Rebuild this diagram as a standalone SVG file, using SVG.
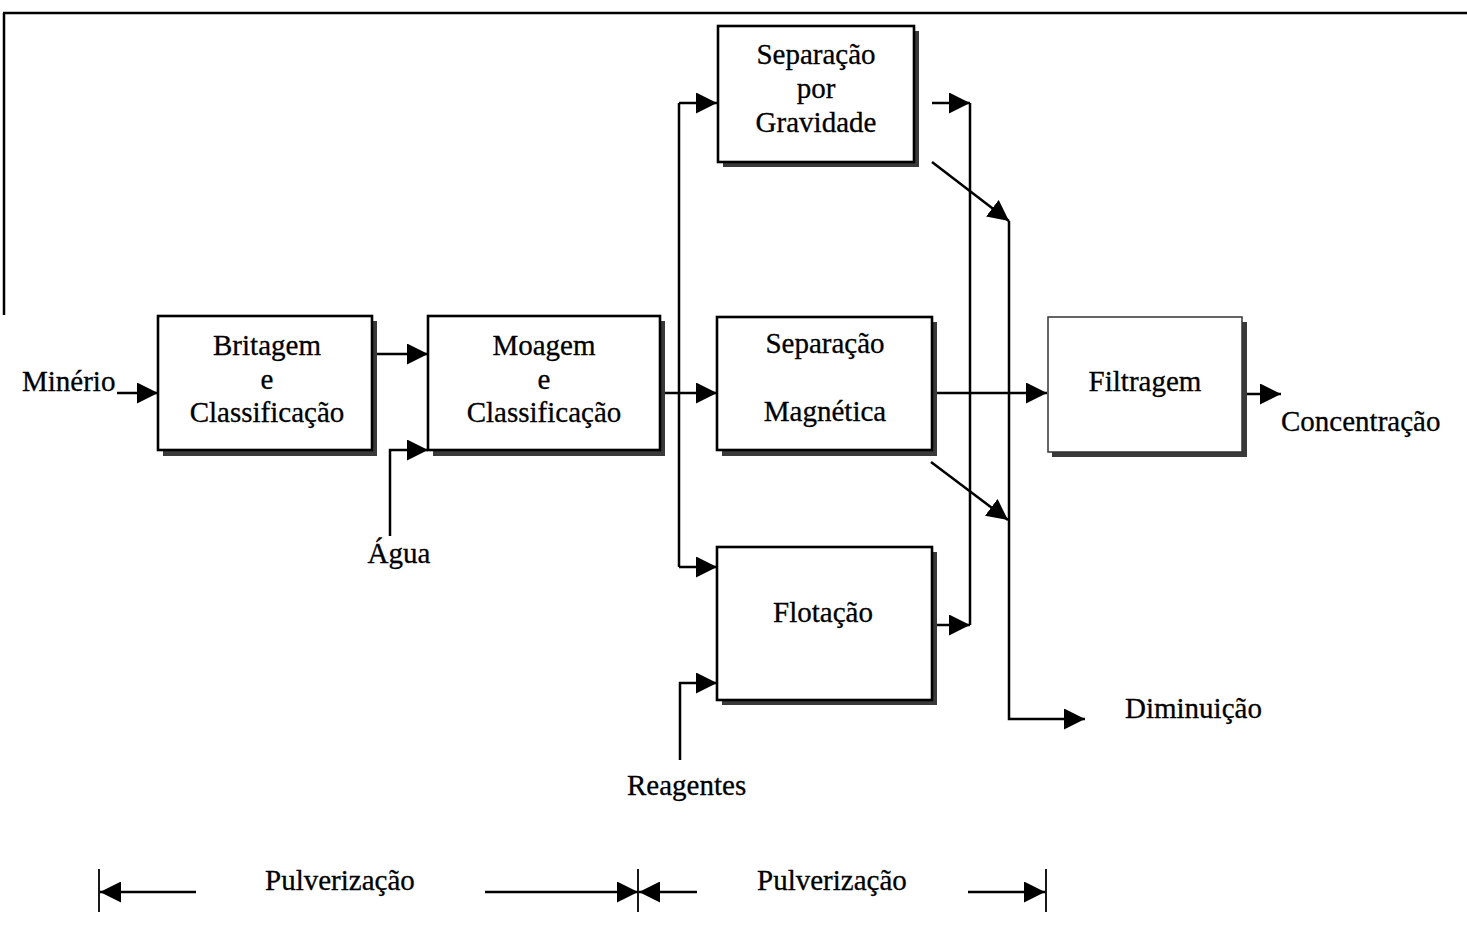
<svg xmlns="http://www.w3.org/2000/svg" width="1467" height="928" viewBox="0 0 1467 928">
  <style>
    .box { fill: #ffffff; stroke: #000000; stroke-width: 2.6; }
    .box-light { fill: #ffffff; stroke: #333333; stroke-width: 1.5; }
    .shadow { fill: #3a3a3a; }
    .wire { fill: none; stroke: #000000; stroke-width: 2.5; }
    .tick { fill: none; stroke: #000000; stroke-width: 1.8; }
    .lbl { font-family: "Liberation Serif", "Times New Roman", serif; font-size: 29px; fill: #000000; stroke: #000000; stroke-width: 0.3; }
    .mid { text-anchor: middle; }
  </style>
  <defs>
    <marker id="arrow" markerUnits="userSpaceOnUse" markerWidth="21" markerHeight="21" refX="21" refY="10.5" orient="auto">
      <path d="M0,0 L21,10.5 L0,21 z" fill="#000000"/>
    </marker>
  </defs>

  <rect width="1467" height="928" fill="#ffffff"/>

  <!-- page frame -->
  <path d="M3,13 H1467 M4,13 V315" fill="none" stroke="#000000" stroke-width="2.5"/>

  <!-- connectors -->
  <g id="connectors">
    <!-- feed -->
    <path class="wire" d="M117,393 H158" marker-end="url(#arrow)"/>
    <!-- crushing to grinding -->
    <path class="wire" d="M376,354 H428" marker-end="url(#arrow)"/>
    <!-- water -->
    <path class="wire" d="M390,536 V450 H428" marker-end="url(#arrow)"/>
    <!-- grinding output to separators -->
    <path class="wire" d="M664,393 H717" marker-end="url(#arrow)"/>
    <path class="wire" d="M679,103 V567"/>
    <path class="wire" d="M679,103 H717" marker-end="url(#arrow)"/>
    <path class="wire" d="M679,567 H717" marker-end="url(#arrow)"/>
    <!-- reagents -->
    <path class="wire" d="M680,760 V683 H717" marker-end="url(#arrow)"/>
    <!-- concentrate collector -->
    <path class="wire" d="M932,103 H970" marker-end="url(#arrow)"/>
    <path class="wire" d="M970,103 V625"/>
    <path class="wire" d="M937,625 H970" marker-end="url(#arrow)"/>
    <!-- magnetic to filtering -->
    <path class="wire" d="M937,393 H1047" marker-end="url(#arrow)"/>
    <!-- tailings -->
    <path class="wire" d="M932,162 L1009,221" marker-end="url(#arrow)"/>
    <path class="wire" d="M931,462 L1008,520" marker-end="url(#arrow)"/>
    <path class="wire" d="M1009,221 V719 H1085" marker-end="url(#arrow)"/>
    <!-- filtering output -->
    <path class="wire" d="M1247,394 H1281" marker-end="url(#arrow)"/>
  </g>

  <!-- nodes -->
  <g id="britagem">
    <rect class="shadow" x="163" y="321" width="214" height="135"/>
    <rect class="box" x="158" y="316" width="214" height="134"/>
    <text class="lbl mid" x="267" y="355">Britagem</text>
    <text class="lbl mid" x="267" y="389">e</text>
    <text class="lbl mid" x="267" y="422">Classificação</text>
  </g>

  <g id="moagem">
    <rect class="shadow" x="433" y="321" width="232" height="135"/>
    <rect class="box" x="428" y="316" width="232" height="134"/>
    <text class="lbl mid" x="544" y="355">Moagem</text>
    <text class="lbl mid" x="544" y="389">e</text>
    <text class="lbl mid" x="544" y="422">Classificação</text>
  </g>

  <g id="gravidade">
    <rect class="shadow" x="723" y="31" width="196" height="136"/>
    <rect class="box" x="718" y="26" width="196" height="136"/>
    <text class="lbl mid" x="816" y="64">Separação</text>
    <text class="lbl mid" x="816" y="98">por</text>
    <text class="lbl mid" x="816" y="132">Gravidade</text>
  </g>

  <g id="magnetica">
    <rect class="shadow" x="722" y="322" width="215" height="134"/>
    <rect class="box" x="717" y="317" width="215" height="133"/>
    <text class="lbl mid" x="825" y="353">Separação</text>
    <text class="lbl mid" x="825" y="421">Magnética</text>
  </g>

  <g id="flotacao">
    <rect class="shadow" x="722" y="552" width="215" height="153"/>
    <rect class="box" x="717" y="547" width="215" height="153"/>
    <text class="lbl mid" x="823" y="622">Flotação</text>
  </g>

  <g id="filtragem">
    <rect class="shadow" x="1052" y="322" width="195" height="135"/>
    <rect class="box-light" x="1048" y="317" width="194" height="135"/>
    <text class="lbl mid" x="1145" y="391">Filtragem</text>
  </g>

  <!-- stream labels -->
  <g id="labels">
    <text class="lbl" x="22" y="391">Minério</text>
    <text class="lbl mid" x="399" y="563">Água</text>
    <text class="lbl" x="627" y="795">Reagentes</text>
    <text class="lbl" x="1281" y="431">Concentração</text>
    <text class="lbl" x="1125" y="718">Diminuição</text>
  </g>

  <!-- stage extents -->
  <g id="stages">
    <path class="tick" d="M99,869 V912 M638,869 V912 M1046,869 V912"/>
    <path class="wire" d="M196,892 H100" marker-end="url(#arrow)"/>
    <path class="wire" d="M485,892 H638" marker-end="url(#arrow)"/>
    <path class="wire" d="M697,892 H639" marker-end="url(#arrow)"/>
    <path class="wire" d="M968,892 H1045" marker-end="url(#arrow)"/>
    <text class="lbl" x="265" y="890">Pulverização</text>
    <text class="lbl" x="757" y="890">Pulverização</text>
  </g>
</svg>
